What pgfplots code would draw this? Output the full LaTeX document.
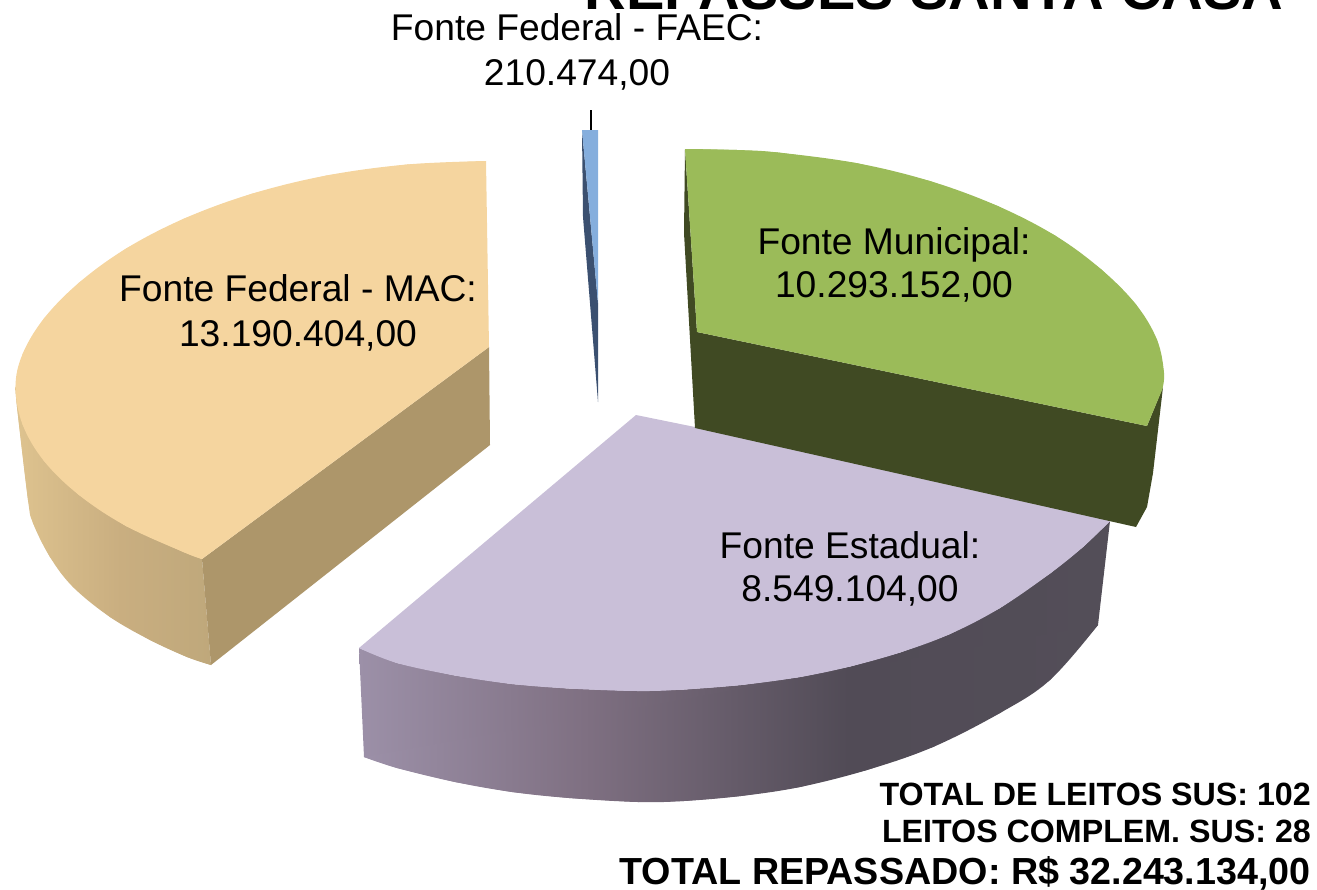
\documentclass[border=0pt]{standalone}
\usepackage{pgfplots}
\pgfplotsset{compat=1.18}
\usepackage{fontspec}
\setmainfont{Liberation Sans}
\definecolor{tanTop}{HTML}{F5D59F}
\definecolor{tanCut}{HTML}{AD966A}
\definecolor{tanA}{HTML}{DEC38F}
\definecolor{tanB}{HTML}{C9AE80}
\definecolor{tanC}{HTML}{BFA87B}
\definecolor{lilaTop}{HTML}{C9BFD8}
\definecolor{lilaA}{HTML}{9C90A8}
\definecolor{lilaB}{HTML}{7F7082}
\definecolor{lilaC}{HTML}{514B56}
\definecolor{lilaD}{HTML}{534E58}
\definecolor{greenTop}{HTML}{9BBB59}
\definecolor{greenSide}{HTML}{404A23}
\definecolor{blueTop}{HTML}{85AEDD}
\definecolor{blueSide}{HTML}{3B5070}
\pgfdeclarehorizontalshading{tanside}{100bp}{color(0bp)=(tanA); color(25bp)=(tanA); color(52bp)=(tanB); color(75bp)=(tanC); color(100bp)=(tanC)}
\pgfdeclarehorizontalshading{lilaside}{100bp}{color(0bp)=(lilaA); color(25bp)=(lilaA); color(40bp)=(lilaB); color(58bp)=(lilaC); color(75bp)=(lilaD); color(100bp)=(lilaD)}
\begin{document}
\begin{tikzpicture}
\path[use as bounding box] (0,0) rectangle (1317pt,889pt);
\clip (0,0) rectangle (1317pt,889pt);
\begin{axis}[
  at={(0,0)}, anchor=south west,
  scale only axis, width=1317pt, height=889pt,
  xmin=0, xmax=1317, ymin=0, ymax=889, y dir=reverse,
  axis lines=none, clip=false,
  every axis plot/.append style={forget plot}
]
% Fonte Federal - MAC
\addplot[shade, shading=tanside, draw=none] coordinates {
 (15.5,387) (17,407) (28,500) (33,523) (50,557) (73,587) (110,617) (150,640) (187,657) (211,665)
 (202,559) (126,526) (79,495) (44,461) (22.6,424.6)};
\addplot[smooth, tension=.6, shade, shading=tanside, draw=none] coordinates {
 (15.5,387) (17,407) (28,500) (33,523) (50,557) (73,587) (110,617) (150,640) (187,657) (211,665)};
\addplot[fill=tanCut, draw=none] coordinates {(202,559) (489,347) (490,445) (211,665)};
\addplot[fill=tanTop, draw=none] coordinates {
 (486,161) (407,164.5) (327,175.4) (252,193.7) (184.5,218.4) (126,248.6) (79,282.7) (44,318.4) (22.6,354)
 (15.5,387) (22.6,424.6) (44,461) (79,495) (126,526) (184.5,552.5) (202,559) (489,347)};
\addplot[smooth, tension=.6, fill=tanTop, draw=none] coordinates {
 (486,161) (407,164.5) (327,175.4) (252,193.7) (184.5,218.4) (126,248.6) (79,282.7) (44,318.4) (22.6,354)
 (15.5,387) (22.6,424.6) (44,461) (79,495) (126,526) (184.5,552.5) (202,559)};
% Fonte Estadual
\addplot[shade, shading=lilaside, draw=none] coordinates {
 (359,648) (364,757) (397,768) (455,782) (512,792) (569,798) (638,802) (684,801) (741,796) (800,787)
 (867,770) (933,747) (1000,713) (1050,680) (1098,625) (1110,521)
 (1083,547) (1050,573.5) (1000,608) (950,634) (900,652.5) (850,666.5) (800,677) (741,685) (684,689.5) (638,691)
 (569,688.5) (512,684) (455,675.5) (397,663)};
\addplot[smooth, tension=.6, shade, shading=lilaside, draw=none] coordinates {
 (364,757) (397,768) (455,782) (512,792) (569,798) (638,802) (684,801) (741,796) (800,787)
 (867,770) (933,747) (1000,713) (1050,680) (1098,625)};
\addplot[fill=lilaTop, draw=none] coordinates {
 (636,415) (695,427) (1100,516) (1110,521) (1083,547) (1050,573.5) (1000,608) (950,634) (900,652.5) (850,666.5)
 (800,677) (741,685) (684,689.5) (638,691) (569,688.5) (512,684) (455,675.5) (397,663) (359,648)};
\addplot[smooth, tension=.6, fill=lilaTop, draw=none] coordinates {
 (1110,521) (1083,547) (1050,573.5) (1000,608) (950,634) (900,652.5) (850,666.5)
 (800,677) (741,685) (684,689.5) (638,691) (569,688.5) (512,684) (455,675.5) (397,663) (359,648)};
% Fonte Municipal
\addplot[fill=greenSide, draw=none] coordinates {
 (685,149) (684,233) (695,428) (1136,527) (1147,507) (1153,473) (1163,387) (1147,426) (697,332)};
\addplot[fill=greenTop, draw=none] coordinates {
 (685,149) (737,150) (778,152.5) (857,163.2) (930.5,181.2) (997,205.7) (1055,235.5) (1101,269.2) (1136,304.5)
 (1157,339.7) (1164,373) (1162,390) (1147,426) (697,332)};
\addplot[smooth, tension=.6, fill=greenTop, draw=none] coordinates {
 (685,149) (737,150) (778,152.5) (857,163.2) (930.5,181.2) (997,205.7) (1055,235.5) (1101,269.2) (1136,304.5)
 (1157,339.7) (1164,373) (1162,390)};
% Fonte Federal - FAEC
\addplot[fill=blueSide, draw=none] coordinates {(582,130) (583,217) (598,402) (598,303)};
\addplot[fill=blueTop, draw=none] coordinates {(582,130) (598,130) (598,303)};
\addplot[black, line width=1.4pt] coordinates {(591,110) (591,130)};
% Text
\node[anchor=base, inner sep=0pt, font=\fontsize{57.6}{58}\selectfont\bfseries] at (axis cs:934,9) {REPASSES SANTA CASA};
\def\lab#1#2#3{\node[anchor=base, inner sep=0pt, font=\fontsize{37.2}{38}\selectfont] at (axis cs:#1,#2) {#3};}
\lab{577}{40}{Fonte Federal - FAEC:}
\lab{577}{85}{210.474,00}
\lab{298}{301}{Fonte Federal - MAC:}
\lab{298}{346}{13.190.404,00}
\lab{894}{254}{Fonte Municipal:}
\lab{894}{297}{10.293.152,00}
\lab{850}{558}{Fonte Estadual:}
\lab{850}{601}{8.549.104,00}
\node[anchor=base east, inner sep=0pt, font=\fontsize{32.2}{33}\selectfont\bfseries] at (axis cs:1311,805) {TOTAL DE LEITOS SUS: 102};
\node[anchor=base east, inner sep=0pt, font=\fontsize{32.2}{33}\selectfont\bfseries] at (axis cs:1311,842) {LEITOS COMPLEM. SUS: 28};
\node[anchor=base east, inner sep=0pt, font=\fontsize{37.7}{38}\selectfont\bfseries] at (axis cs:1311,884) {TOTAL REPASSADO: R\$ 32.243.134,00};
\end{axis}
\end{tikzpicture}
\end{document}
